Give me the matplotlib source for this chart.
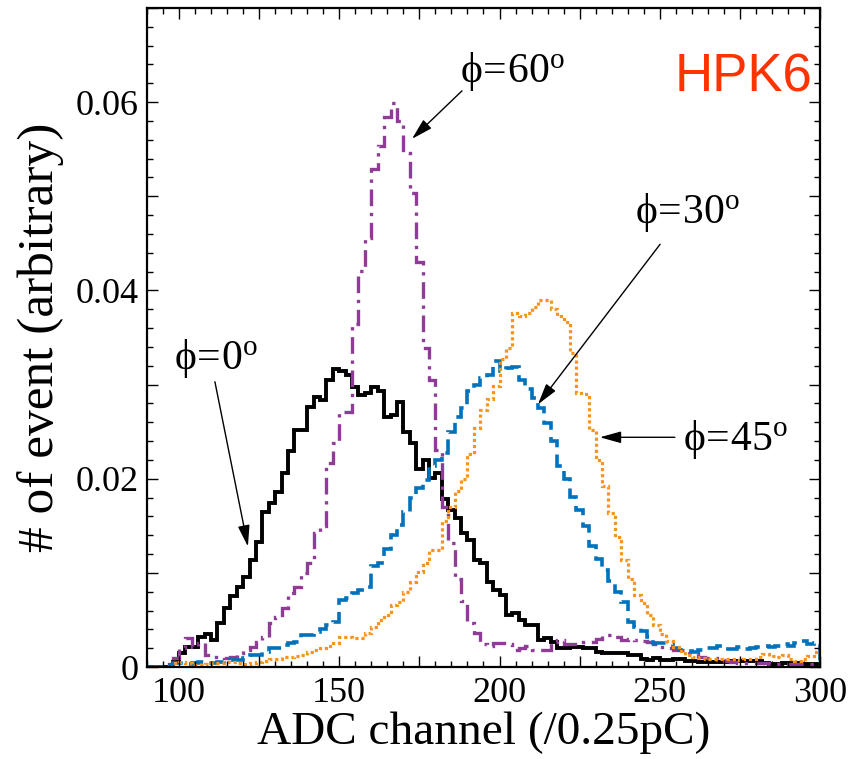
import matplotlib
matplotlib.use("Agg")
import matplotlib.pyplot as plt
import numpy as np

plt.rcParams['font.family'] = ['Liberation Serif', 'DejaVu Serif']
plt.rcParams['mathtext.fontset'] = 'custom'
plt.rcParams['mathtext.rm'] = 'Liberation Serif'
plt.rcParams['mathtext.it'] = 'Liberation Serif:italic'

# histogram binning (ADC channels)
bin_lo, bin_hi, bin_w = 90, 300, 2
edges = np.arange(bin_lo, bin_hi + bin_w, bin_w)

# phi = 0 deg (black, solid)
phi0 = [0, 0, 0, 0, 0.0005, 0.0015, 0.0021, 0.0021, 0.0032, 0.0035,
        0.0029, 0.0047, 0.0063, 0.0075, 0.0085, 0.0096, 0.0114, 0.0133, 0.0165, 0.0174,
        0.0186, 0.0206, 0.0229, 0.0252, 0.0252, 0.0276, 0.0287, 0.0284, 0.0305, 0.0316,
        0.0314, 0.0310, 0.0297, 0.0289, 0.0291, 0.0297, 0.0293, 0.0266, 0.0268, 0.0281,
        0.0250, 0.0238, 0.0210, 0.0220, 0.0201, 0.0206, 0.0178, 0.0167, 0.0158, 0.0142,
        0.0135, 0.0114, 0.0110, 0.0090, 0.0082, 0.0077, 0.0055, 0.0057, 0.0050, 0.0045,
        0.0045, 0.0029, 0.0031, 0.0027, 0.0020, 0.0020, 0.0021, 0.0021, 0.0020, 0.0020,
        0.0016, 0.0015, 0.0015, 0.0015, 0.0015, 0.0013, 0.0013, 0.0008, 0.0007, 0.0010,
        0.0007, 0.0007, 0.0009, 0.0009, 0.0006, 0.0006, 0.0005, 0.0005, 0.0005, 0.0005,
        0.0005, 0.0006, 0.0006, 0.0006, 0.0006, 0.0006, 0.0004, 0.0003, 0.0003, 0.0004,
        0.0004, 0.0004, 0.0003, 0.0003, 0.0003]

# phi = 30 deg (blue, dashed)
phi30 = [0, 0, 0, 0.0002, 0.0004, 0.0004, 0.0003, 0.0004, 0.0005, 0.0004,
         0.0004, 0.0005, 0.0006, 0.0007, 0.0007, 0.0010, 0.0013, 0.0013, 0.0016, 0.0020,
         0.0020, 0.0023, 0.0025, 0.0027, 0.0034, 0.0034, 0.0037, 0.0040, 0.0045, 0.0048,
         0.0071, 0.0073, 0.0079, 0.0082, 0.0085, 0.0107, 0.0110, 0.0125, 0.0140, 0.0151,
         0.0165, 0.0180, 0.0190, 0.0199, 0.0213, 0.0220, 0.0227, 0.0250, 0.0266, 0.0275,
         0.0293, 0.0300, 0.0307, 0.0310, 0.0325, 0.0314, 0.0318, 0.0319, 0.0305, 0.0295,
         0.0286, 0.0275, 0.0259, 0.0240, 0.0213, 0.0200, 0.0181, 0.0167, 0.0150, 0.0128,
         0.0115, 0.0103, 0.0091, 0.0080, 0.0069, 0.0048, 0.0043, 0.0038, 0.0032, 0.0026,
         0.0025, 0.0024, 0.0020, 0.0018, 0.0017, 0.0016, 0.0018, 0.0020, 0.0020, 0.0022,
         0.0019, 0.0019, 0.0021, 0.0019, 0.0020, 0.0021, 0.0022, 0.0021, 0.0022, 0.0024,
         0.0022, 0.0026, 0.0028, 0.0024, 0.0025]

# phi = 45 deg (orange, dotted)
phi45 = [0, 0, 0, 0, 0.0004, 0.0005, 0.0004, 0.0002, 0.0002, 0.0003,
         0.0004, 0.0004, 0.0005, 0.0005, 0.0004, 0.0003, 0.0004, 0.0005, 0.0006, 0.0008,
         0.0008, 0.0011, 0.0011, 0.0012, 0.0013, 0.0016, 0.0018, 0.0020, 0.0022, 0.0026,
         0.0032, 0.0032, 0.0031, 0.0031, 0.0036, 0.0042, 0.0050, 0.0055, 0.0066, 0.0069,
         0.0080, 0.0090, 0.0101, 0.0110, 0.0124, 0.0124, 0.0155, 0.0170, 0.0187, 0.0200,
         0.0226, 0.0254, 0.0273, 0.0285, 0.0298, 0.0327, 0.0339, 0.0376, 0.0373, 0.0376,
         0.0382, 0.0390, 0.0390, 0.0380, 0.0373, 0.0366, 0.0334, 0.0291, 0.0290, 0.0252,
         0.0220, 0.0192, 0.0164, 0.0138, 0.0114, 0.0093, 0.0077, 0.0068, 0.0055, 0.0045,
         0.0035, 0.0028, 0.0021, 0.0017, 0.0013, 0.0011, 0.0010, 0.0009, 0.0009, 0.0008,
         0.0008, 0.0008, 0.0007, 0.0008, 0.0009, 0.0011, 0.0014, 0.0012, 0.0011, 0.0013,
         0.0008, 0.0006, 0.0009, 0.0012, 0.0016]

# phi = 60 deg (purple, dash-dot)
phi60 = [0, 0, 0, 0.0003, 0.0010, 0.0020, 0.0031, 0.0021, 0.0025, 0.0013,
         0.0011, 0.0011, 0.0010, 0.0011, 0.0015, 0.0018, 0.0021, 0.0027, 0.0032, 0.0047,
         0.0053, 0.0063, 0.0079, 0.0085, 0.0100, 0.0110, 0.0142, 0.0150, 0.0217, 0.0238,
         0.0271, 0.0271, 0.0364, 0.0421, 0.0456, 0.0529, 0.0553, 0.0584, 0.0599, 0.0580,
         0.0546, 0.0504, 0.0430, 0.0339, 0.0305, 0.0231, 0.0170, 0.0132, 0.0093, 0.0070,
         0.0047, 0.0036, 0.0024, 0.0022, 0.0025, 0.0025, 0.0024, 0.0018, 0.0020, 0.0022,
         0.0018, 0.0018, 0.0018, 0.0027, 0.0029, 0.0024, 0.0024, 0.0024, 0.0027, 0.0027,
         0.0030, 0.0034, 0.0034, 0.0032, 0.0029, 0.0030, 0.0029, 0.0028, 0.0027, 0.0024,
         0.0021, 0.0020, 0.0018, 0.0018, 0.0015, 0.0015, 0.0011, 0.0010, 0.0010, 0.0007,
         0.0006, 0.0005, 0.0004, 0.0004, 0.0004, 0.0004, 0.0004, 0.0003, 0.0003, 0.0003,
         0.0003, 0.0003, 0.0003, 0.0003, 0.0003]

# labels: text (x, y), arrow tail, arrow head  (data coords)
labels = ['0', '30', '45', '60']
label_txt = [(98.5, 0.0328), (242.3, 0.0483), (257.2, 0.0242), (187.7, 0.0633)]
arrow_tail = [(111.2, 0.0303), (250.1, 0.0449), (254.7, 0.0244), (188.3, 0.0612)]
arrow_head = [(121.5, 0.0128), (212.0, 0.0279), (231.3, 0.0244), (172.7, 0.0561)]

fig = plt.figure(figsize=(8.48, 7.59), dpi=100)
ax = fig.add_axes([0.1733, 0.1212, 0.7937, 0.8683])

ax.stairs(phi0, edges, color='black', lw=2.8)
ax.stairs(phi60, edges, color='#8E3C96', lw=2.4, linestyle=(0, (5, 2, 1, 2)))
ax.stairs(phi30, edges, color='#0072BC', lw=2.6, linestyle=(0, (4.5, 2)))
ax.stairs(phi45, edges, color='#F7941D', lw=2.3, linestyle=(0, (1, 0.9)))

for lab, t, a0, a1 in zip(labels, label_txt, arrow_tail, arrow_head):
    ax.text(t[0], t[1], r'$\mathrm{ϕ\!=\!' + lab + r'^{o}}$', fontsize=30,
            ha='left', va='center')
    ax.annotate('', xy=a1, xytext=a0,
                arrowprops=dict(arrowstyle='-|>,head_length=0.65,head_width=0.18',
                                color='black', lw=1.0, mutation_scale=20,
                                shrinkA=0, shrinkB=0))

ax.text(297.8, 0.0611, 'HPK6', fontsize=38, color='#FF3300',
        family=['Liberation Sans', 'DejaVu Sans'], ha='right', va='baseline')

ax.set_xlim(90, 300)
ax.set_ylim(0, 0.07)

ax.set_xticks(np.arange(100, 301, 25))
ax.set_xticklabels([str(v) if v % 50 == 0 else '' for v in range(100, 301, 25)])
ax.set_xticks(np.arange(90, 301, 5), minor=True)
yt = [0, 0.01, 0.02, 0.03, 0.04, 0.05, 0.06, 0.07]
ax.set_yticks(yt)
ax.set_yticklabels(['0', '', '0.02', '', '0.04', '', '0.06', ''])
ax.set_yticks(np.arange(0, 0.0701, 0.002), minor=True)

ax.tick_params(which='both', direction='in', top=True, right=True, labelsize=26)
ax.tick_params(which='major', length=8, width=1.0)
ax.tick_params(which='minor', length=4, width=1.0)
ax.tick_params(axis='x', pad=7)
ax.tick_params(axis='y', pad=6)
for s in ax.spines.values():
    s.set_linewidth(1.6)

ax.set_xlabel('ADC channel (/0.25pC)', fontsize=34, labelpad=1)
ax.set_ylabel('# of event (arbitrary)', fontsize=37, labelpad=8)

fig.savefig('out.png', dpi=100)
